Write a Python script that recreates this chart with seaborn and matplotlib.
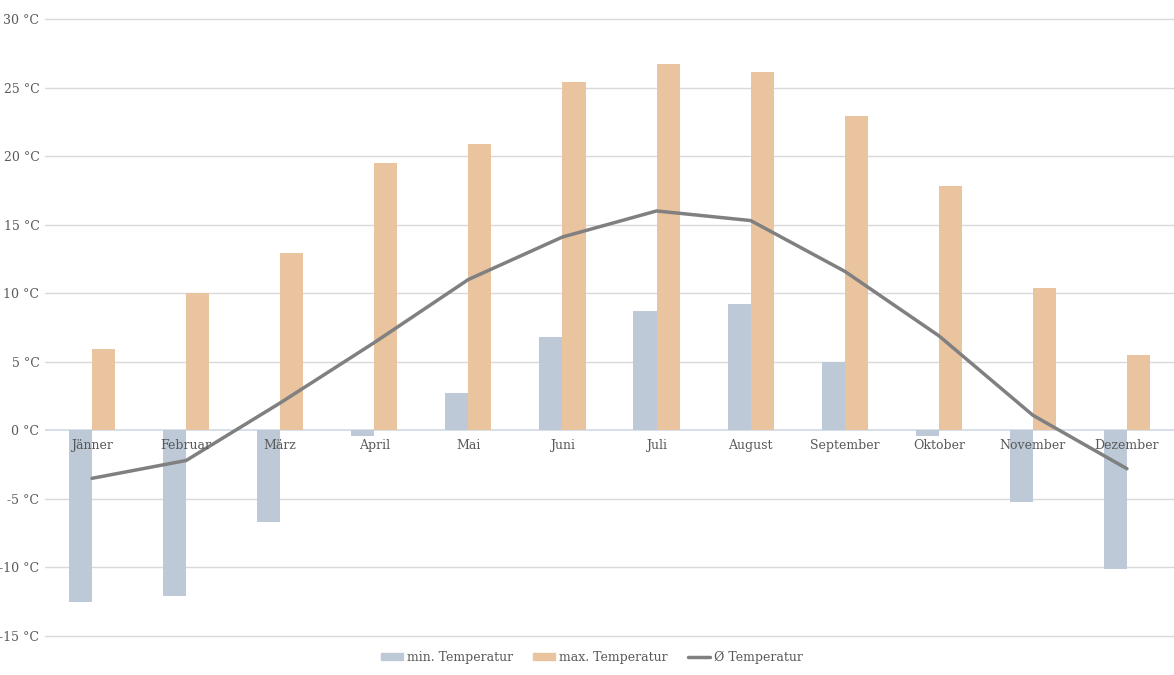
import numpy as np
import pandas as pd
import seaborn as sns
import matplotlib.pyplot as plt
from matplotlib.patches import Patch
from matplotlib.lines import Line2D

months = ['Jänner', 'Februar', 'März', 'April', 'Mai', 'Juni', 'Juli',
          'August', 'September', 'Oktober', 'November', 'Dezember']
t_min = [-12.5, -12.1, -6.7, -0.4, 2.7, 6.8, 8.7, 9.2, 5.0, -0.4, -5.2, -10.1]
t_max = [5.9, 10.0, 12.9, 19.5, 20.9, 25.4, 26.7, 26.1, 22.9, 17.8, 10.4, 5.5]
t_avg = [-3.5, -2.2, 2.0, 6.4, 11.0, 14.1, 16.0, 15.3, 11.6, 6.9, 1.1, -2.8]

col_min = '#bdc9d7'
col_max = '#eac49e'
col_avg = '#808080'
txt = '#595959'

sns.set_theme(style='white')
plt.rcParams['font.family'] = ['DejaVu Serif']

df = pd.DataFrame({
    'Monat': months * 2,
    'Wert': t_min + t_max,
    'Reihe': ['min. Temperatur'] * 12 + ['max. Temperatur'] * 12,
})

fig = plt.figure(figsize=(11.74, 6.75), dpi=100)
ax = fig.add_axes([45 / 1174, 1 - 636 / 675, 1 - 45 / 1174, 617 / 675])

sns.barplot(data=df, x='Monat', y='Wert', hue='Reihe', order=months,
            palette=[col_min, col_max], saturation=1, width=0.49, gap=0,
            dodge=True, linewidth=0, ax=ax, legend=False, zorder=3)
sns.lineplot(x=np.arange(12), y=t_avg, color=col_avg, linewidth=2.5,
             ax=ax, zorder=4)

ax.set_xlim(-0.5, 11.5)
ax.set_ylim(-15, 30)
ax.set_yticks(range(-15, 31, 5))
ax.set_yticklabels([f'{v} °C' for v in range(-15, 31, 5)], color=txt, fontsize=9)
ax.tick_params(axis='y', length=0, pad=4)
ax.set_xticks([])
ax.set_xlabel('')
ax.set_ylabel('')
for v in range(-15, 31, 5):
    if v != 0:
        ax.axhline(v, color='#d9d9d9', linewidth=1, zorder=1, clip_on=False)
ax.axhline(0, color='#d0d9e6', linewidth=1.2, zorder=2)
for s in ax.spines.values():
    s.set_visible(False)

for i, m in enumerate(months):
    ax.annotate(m, (i, 0), xytext=(0, -11), textcoords='offset points',
                ha='center', va='center', fontsize=9, color=txt, zorder=5)

handles = [Patch(color=col_min, label='min. Temperatur'),
           Patch(color=col_max, label='max. Temperatur'),
           Line2D([], [], color=col_avg, linewidth=2.5, label='Ø Temperatur')]
leg = fig.legend(handles=handles, loc='center', bbox_to_anchor=(0.504, 1 - 657 / 675),
                 ncol=3, frameon=False, fontsize=9, handlelength=1.8,
                 handleheight=0.5, columnspacing=1.6, handletextpad=0.3)
for t in leg.get_texts():
    t.set_color(txt)

fig.savefig('out.png', dpi=100)
